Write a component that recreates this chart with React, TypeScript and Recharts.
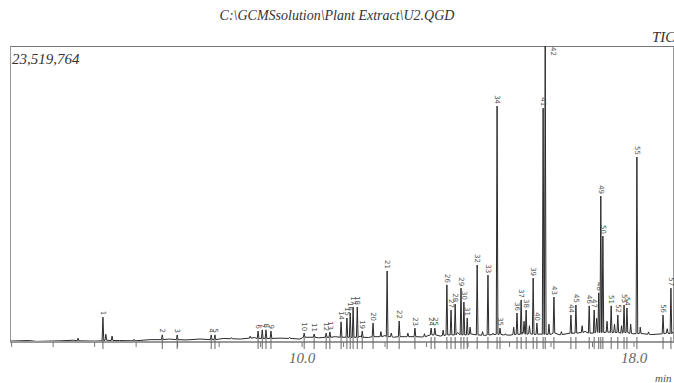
import { ComposedChart, Line, Scatter, XAxis, YAxis } from 'recharts';

// labelled peaks: retention time (min), apex height (% of 23,519,764), foot level (%)
const peakNo = [
  '1', '2', '3', '4', '5', '6', '7', '8', '9', '10',
  '11', '12', '13', '14', '15', '16', '17', '18', '19', '20',
  '21', '22', '23', '24', '25', '26', '27', '28', '29', '30',
  '31', '32', '33', '34', '35', '36', '37', '38', '39', '40',
  '41', '42', '43', '44', '45', '46', '47', '48', '49', '50',
  '51', '52', '53', '54', '55', '56', '57',
];
const peakTime = [
  5.20, 6.63, 6.99, 7.81, 7.90, 8.94, 9.04, 9.13, 9.25, 10.05,
  10.29, 10.58, 10.67, 10.94, 11.08, 11.16, 11.23, 11.33, 11.45, 11.71,
  12.05, 12.34, 12.72, 13.11, 13.20, 13.49, 13.59, 13.69, 13.83, 13.90,
  13.98, 14.22, 14.48, 14.70, 14.77, 15.18, 15.28, 15.40, 15.57, 15.66,
  15.81, 15.86, 16.07, 16.48, 16.60, 16.92, 17.04, 17.15, 17.20, 17.25,
  17.45, 17.61, 17.76, 17.83, 18.07, 18.70, 18.89,
];
const peakHeight = [
  8.4, 2.4, 2.4, 2.4, 2.4, 3.7, 4.1, 4.1, 3.7, 3.0,
  2.7, 3.0, 3.4, 6.8, 8.1, 9.8, 11.8, 11.8, 3.7, 6.4,
  24.0, 7.1, 4.7, 4.7, 4.7, 19.3, 10.8, 12.8, 18.2, 13.5,
  8.1, 26.0, 22.6, 79.7, 4.7, 9.8, 14.2, 10.8, 21.6, 6.4,
  79.0, 100, 15.2, 9.1, 12.5, 12.2, 10.8, 16.6, 49.3, 35.8,
  12.2, 9.1, 12.5, 11.5, 62.5, 9.1, 18.2,
];
const peakFoot = [
  0.4, 0.8, 0.8, 0.8, 0.8, 1.2, 1.2, 1.2, 1.2, 1.6,
  1.6, 1.6, 1.6, 1.6, 1.6, 1.6, 1.6, 1.6, 1.6, 1.8,
  1.8, 1.8, 1.8, 2.4, 2.4, 2.4, 2.4, 2.4, 2.4, 2.4,
  2.4, 2.4, 2.4, 2.6, 2.6, 2.6, 2.6, 2.6, 2.6, 2.6,
  2.6, 2.6, 3.0, 3.0, 3.0, 3.0, 3.0, 3.2, 3.2, 3.2,
  3.2, 3.2, 3.2, 3.2, 2.8, 2.8, 2.8,
];

// small unlabelled peaks
const minorTime = [
  4.60, 5.27, 5.42, 5.95, 8.30, 8.75, 9.70, 11.90, 12.15, 12.55,
  12.95, 13.40, 14.05, 14.35, 14.60, 14.90, 15.10, 15.35, 15.48, 15.95,
  16.25, 16.75, 17.10, 17.35, 17.53, 17.70, 17.92, 18.15, 18.35, 18.80,
];
const minorHeight = [
  1.3, 2.6, 2.0, 0.9, 1.5, 2.0, 1.6, 3.5, 3.0, 3.0,
  2.8, 4.0, 5.0, 3.5, 3.0, 2.8, 5.0, 7.0, 5.5, 6.0,
  3.5, 5.5, 8.0, 7.0, 6.0, 5.5, 6.0, 5.0, 3.4, 4.5,
];
const minorFoot = [
  0.4, 0.6, 0.5, 0.4, 1.1, 1.3, 1.2, 1.8, 1.8, 1.8,
  1.8, 2.2, 2.6, 2.3, 2.5, 2.4, 2.5, 3.0, 2.8, 2.6,
  2.5, 3.2, 3.6, 3.3, 3.2, 3.0, 2.9, 2.9, 2.6, 3.0,
];

// baseline between peaks
const baseTime = [
  2.96, 3.40, 3.60, 4.17, 4.50, 5.01, 5.60, 6.34, 6.80, 7.20,
  7.54, 8.10, 8.51, 8.85, 9.47, 9.95, 10.40, 10.80, 11.40, 11.60,
  12.00, 12.20, 12.50, 12.90, 13.33, 13.75, 14.08, 14.40, 14.85, 15.01,
  15.30, 15.73, 16.00, 16.22, 16.50, 16.82, 17.12, 17.42, 17.68, 17.97,
  18.14, 18.40, 18.63, 18.94,
];
const baseLevel = [
  0.3, 0.5, 0.2, 0.4, 0.6, 0.3, 0.5, 0.8, 1.0, 0.7,
  1.0, 1.2, 1.0, 1.5, 1.3, 1.0, 1.4, 1.8, 2.0, 1.5,
  2.2, 1.6, 1.8, 1.7, 2.0, 3.2, 2.7, 2.2, 2.4, 2.3,
  3.3, 2.7, 2.6, 2.4, 2.8, 3.6, 4.0, 3.4, 3.0, 2.8,
  3.0, 2.5, 2.7, 3.4,
];

const xTicks = [3, 4, 5, 6, 7, 8, 9, 10, 11, 12, 13, 14, 15, 16, 17, 18];
const xTickText = ['', '', '', '', '', '', '', '10.0', '', '', '', '', '', '', '', '18.0'];

const HALF = 0.02;

const trace: { t: number; v: number }[] = [];
baseTime.forEach((t, i) => trace.push({ t, v: baseLevel[i] }));
const addPeak = (t: number, h: number, f: number) => {
  trace.push({ t: t - HALF, v: f }, { t, v: h }, { t: t + HALF, v: f });
};
peakTime.forEach((t, i) => addPeak(t, peakHeight[i], peakFoot[i]));
minorTime.forEach((t, i) => addPeak(t, minorHeight[i], minorFoot[i]));
trace.sort((a, b) => a.t - b.t);

const apexes = peakTime.map((t, i) => ({ t, v: peakHeight[i], label: peakNo[i] }));
const markers = peakTime.map((t) => ({ t, v: 0 }));

const serif = '"Liberation Serif", "DejaVu Serif", serif';

const XTick = (props: any) => {
  const { x, y, payload } = props;
  const txt = xTickText[xTicks.indexOf(payload.value)];
  if (!txt) return <g />;
  return (
    <text x={x} y={y + 14} textAnchor="middle" fontFamily={serif} fontStyle="italic" fontSize={15} fill="#666">
      {txt}
    </text>
  );
};

const PeakLabel = (props: any) => {
  const { cx, cy, payload } = props;
  const atTop = cy < 52;
  const x = atTop ? cx + 8 : cx;
  const y = atTop ? cy + 1 : cy - 2;
  return (
    <text
      transform={`translate(${x},${y}) rotate(90)`}
      textAnchor={atTop ? 'start' : 'end'}
      dominantBaseline="central"
      fontSize={7}
      fontFamily="DejaVu Sans"
      fill="#555"
    >
      {payload.label}
    </text>
  );
};

const PeakMark = (props: any) => {
  const { cx, cy } = props;
  return <line x1={cx} x2={cx} y1={cy - 5} y2={cy + 7} stroke="#666" strokeWidth={1} />;
};

const App = () => {
  return (
    <div style={{ position: 'fixed', left: 0, top: 0, width: 674, height: 383, overflow: 'hidden', background: '#fff' }}>
      <div style={{ position: 'absolute', left: 0, top: 8, width: 674, textAlign: 'center', fontFamily: serif, fontStyle: 'italic', fontSize: 14, lineHeight: '16px', color: '#333' }}>
        C:\GCMSsolution\Plant Extract\U2.QGD
      </div>
      <div style={{ position: 'absolute', left: 652, top: 29, fontFamily: serif, fontStyle: 'italic', fontSize: 15, lineHeight: '16px', color: '#333', whiteSpace: 'nowrap' }}>
        TIC
      </div>
      <div style={{ position: 'absolute', left: 12, top: 51, fontFamily: serif, fontStyle: 'italic', fontSize: 15, lineHeight: '16px', color: '#333', whiteSpace: 'nowrap' }}>
        23,519,764
      </div>
      <div style={{ position: 'absolute', left: 655, top: 372, fontFamily: serif, fontStyle: 'italic', fontSize: 11, lineHeight: '12px', color: '#555', whiteSpace: 'nowrap' }}>
        min
      </div>
      <div style={{ position: 'absolute', left: 10, top: 46, width: 662, height: 296, borderTop: '1px solid #777', borderLeft: '1px solid #999', borderRight: '1px solid #999' }} />
      <div style={{ position: 'absolute', left: 0, top: 0 }}>
        <ComposedChart width={674} height={383} margin={{ top: 46, right: 1, bottom: 0, left: 10 }}>
          <XAxis
            type="number"
            dataKey="t"
            domain={[2.96, 18.94]}
            ticks={xTicks}
            interval={0}
            height={41}
            tickSize={5}
            tickLine={{ stroke: '#777' }}
            axisLine={{ stroke: '#999', strokeWidth: 2 }}
            tick={<XTick />}
          />
          <YAxis type="number" dataKey="v" domain={[0, 100]} width={0} tick={false} axisLine={false} tickLine={false} />
          <Line data={trace} dataKey="v" type="linear" stroke="#2a2a2a" strokeWidth={1} dot={false} isAnimationActive={false} />
          <Scatter data={markers} dataKey="v" shape={PeakMark} isAnimationActive={false} />
          <Scatter data={apexes} dataKey="v" shape={PeakLabel} isAnimationActive={false} />
        </ComposedChart>
      </div>
    </div>
  );
};

export default App;
